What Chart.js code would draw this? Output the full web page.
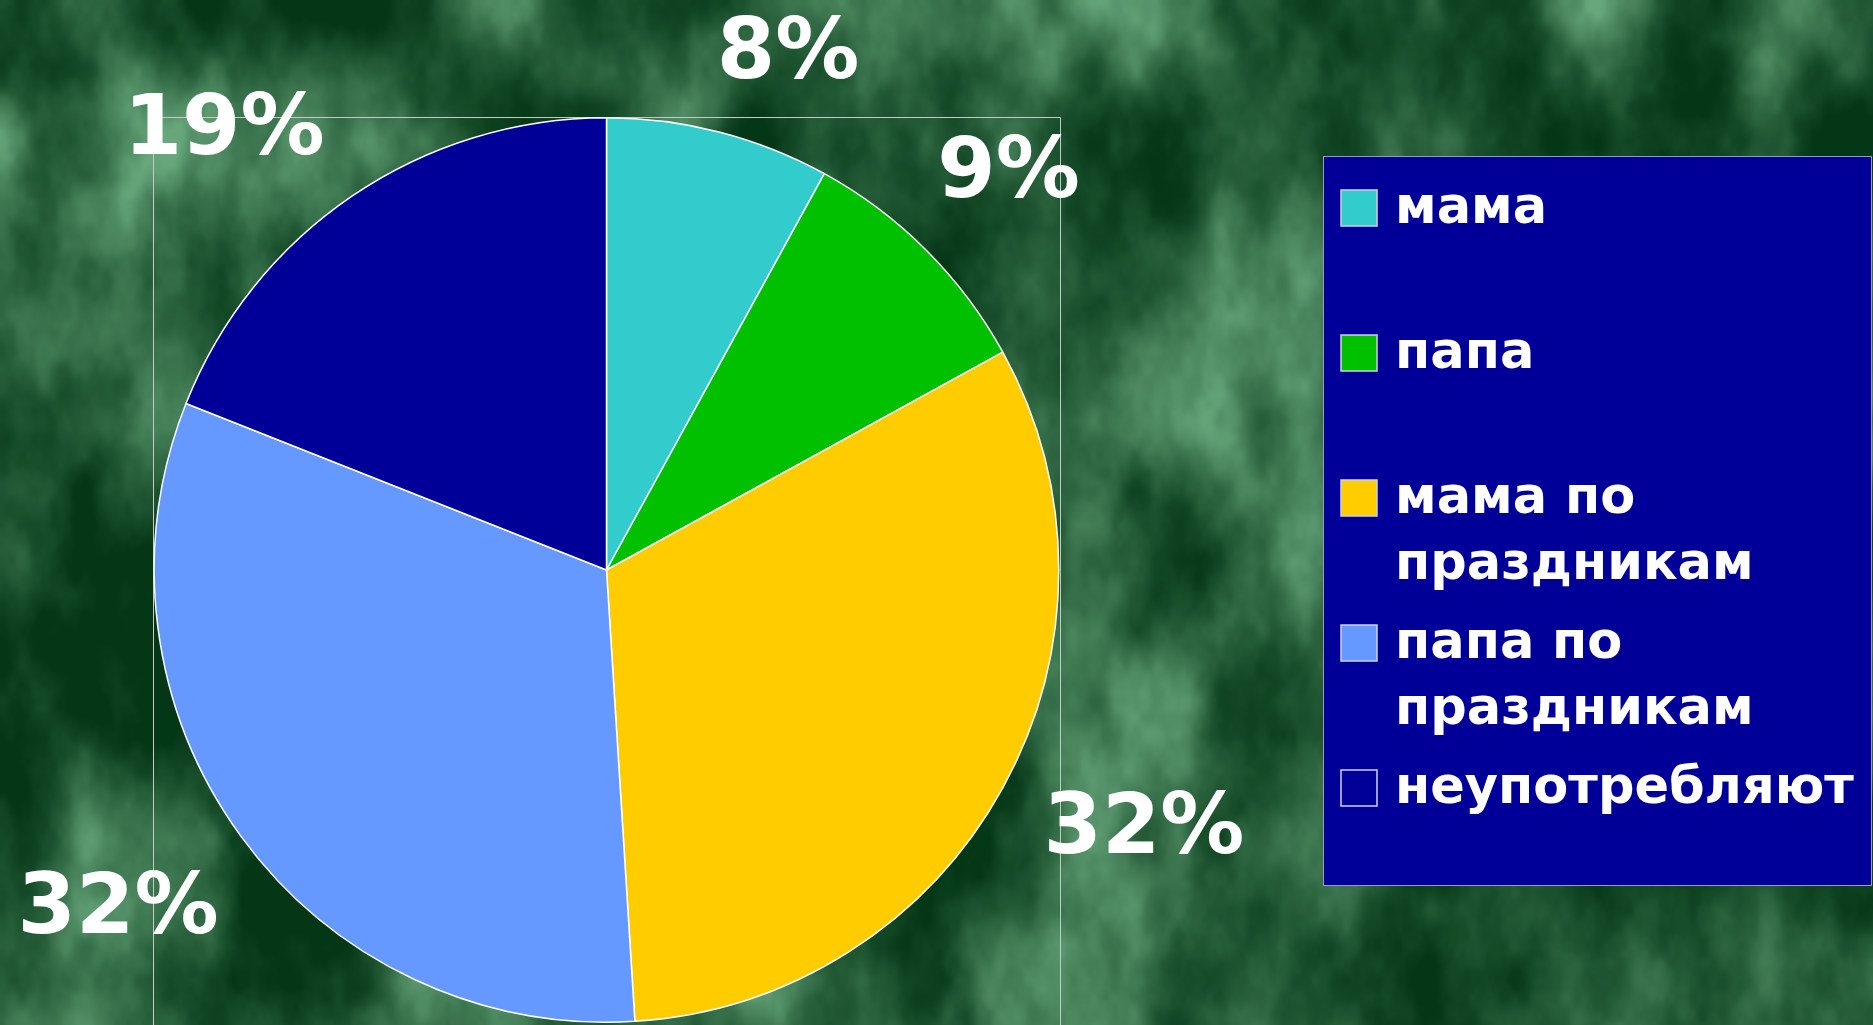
<!DOCTYPE html>
<html>
<head>
<meta charset="utf-8">
<script src="https://cdn.jsdelivr.net/npm/chart.js@4"></script>
<style>
  html, body { margin: 0; padding: 0; background: #23553a; }
  body { width: 1873px; height: 1025px; overflow: hidden; position: relative; }
  #bg { position: absolute; left: 0; top: 0; width: 1873px; height: 1025px; }
  #wrap { position: absolute; left: 0; top: 0; width: 1873px; height: 1025px; }
</style>
</head>
<body>
<canvas id="bg" width="624" height="342"></canvas>
<div id="wrap"><canvas id="chart"></canvas></div>
<script>
const categories = ['мама', 'папа', 'мама по праздникам', 'папа по праздникам', 'неупотребляют'];
const legendLines = [['мама'], ['папа'], ['мама по', 'праздникам'], ['папа по', 'праздникам'], ['неупотребляют']];
const percents = [8, 9, 32, 32, 19];
const colors = ['#33CCCC', '#00C000', '#FFCC00', '#6699FF', '#000099'];

// фон: зелёная «мраморная» текстура (детерминированный шум)
(function drawBg() {
  const cv = document.getElementById('bg');
  const g = cv.getContext('2d');
  const W = cv.width, H = cv.height;
  const img = g.createImageData(W, H);
  const hash = (x, y) => {
    let h = (x * 374761393 + y * 668265263) | 0;
    h = Math.imul(h ^ (h >>> 13), 1274126177);
    return ((h ^ (h >>> 16)) >>> 0) / 4294967295;
  };
  const smooth = t => t * t * (3 - 2 * t);
  const noise = (x, y) => {
    const xi = Math.floor(x), yi = Math.floor(y);
    const fx = smooth(x - xi), fy = smooth(y - yi);
    const a = hash(xi, yi), b = hash(xi + 1, yi), c = hash(xi, yi + 1), d = hash(xi + 1, yi + 1);
    return a + (b - a) * fx + (c - a) * fy + (a - b - c + d) * fx * fy;
  };
  for (let y = 0; y < H; y++) {
    for (let x = 0; x < W; x++) {
      let v = 0, amp = 0.5, f = 1 / 28;
      for (let o = 0; o < 5; o++) {
        v += amp * noise(x * f + o * 31, y * f * 0.6 + o * 17);
        amp *= 0.5; f *= 2;
      }
      v = Math.min(1, Math.max(0, (v - 0.22) / 0.6));
      v = Math.pow(v, 1.3);
      const i = (y * W + x) * 4;
      img.data[i] = 4 + v * 100;
      img.data[i + 1] = 55 + v * 112;
      img.data[i + 2] = 22 + v * 102;
      img.data[i + 3] = 255;
    }
  }
  g.putImageData(img, 0, 0);
})();

// рамка области построения
const plotFrame = {
  id: 'plotFrame',
  beforeDraw(chart) {
    const a = chart.chartArea, c = chart.ctx;
    c.save();
    c.strokeStyle = '#c8c8c8';
    c.lineWidth = 1;
    c.beginPath();
    c.moveTo(a.left + 0.5, chart.height + 5);
    c.lineTo(a.left + 0.5, a.top + 0.5);
    c.lineTo(a.right + 0.5, a.top + 0.5);
    c.lineTo(a.right + 0.5, chart.height + 5);
    c.stroke();
    c.restore();
  }
};

// подписи процентов снаружи круга
const labelNudgeDeg = [4.9, 0.2, -3.2, 1.4, -6.7];
const outLabels = {
  id: 'outLabels',
  afterDatasetsDraw(chart) {
    const c = chart.ctx;
    const meta = chart.getDatasetMeta(0);
    c.save();
    c.font = 'bold 84px "DejaVu Sans"';
    c.fillStyle = '#ffffff';
    c.textAlign = 'center';
    c.textBaseline = 'middle';
    meta.data.forEach((arc, i) => {
      const p = arc.getProps(['x', 'y', 'startAngle', 'endAngle', 'outerRadius'], true);
      const mid = (p.startAngle + p.endAngle) / 2 + labelNudgeDeg[i] * Math.PI / 180;
      const txt = percents[i] + '%';
      const w = c.measureText(txt).width;
      const h = 63;
      const dx = Math.cos(mid), dy = Math.sin(mid);
      const d = p.outerRadius + 36 + Math.abs(dx) * w / 2 + Math.abs(dy) * h / 2 + Math.abs(dy) * 8;
      c.fillText(txt, p.x + dx * d, p.y + dy * d + 4);
    });
    c.restore();
  }
};

// легенда справа
const boxLegend = {
  id: 'boxLegend',
  afterDraw(chart) {
    const c = chart.ctx;
    const bx = 1323, by = 156, bw = 548, bh = 729;
    c.save();
    c.fillStyle = '#000099';
    c.fillRect(bx, by, bw, bh);
    c.strokeStyle = '#9a9ab8';
    c.lineWidth = 1;
    c.strokeRect(bx + 0.5, by + 0.5, bw, bh);
    c.font = 'bold 51px "DejaVu Sans"';
    c.textBaseline = 'middle';
    c.textAlign = 'left';
    const bg = chart.data.datasets[0].backgroundColor;
    const firstY = 210, step = 145, lineH = 66;
    legendLines.forEach((lines, i) => {
      const y = firstY + i * step;
      c.fillStyle = bg[i];
      c.fillRect(1341, y - 20, 36, 36);
      c.strokeStyle = '#d0d0e0';
      c.lineWidth = 1.5;
      c.strokeRect(1341, y - 20, 36, 36);
      c.fillStyle = '#ffffff';
      lines.forEach((t, k) => c.fillText(t, 1395, y + k * lineH));
    });
    c.restore();
  }
};

new Chart(document.getElementById('chart'), {
  type: 'pie',
  data: {
    labels: categories,
    datasets: [{
      data: percents,
      backgroundColor: colors,
      borderColor: '#ffffff',
      borderWidth: 1.5
    }]
  },
  options: {
    responsive: true,
    maintainAspectRatio: false,
    animation: false,
    layout: { padding: { left: 153, right: 813, top: 117, bottom: 2 } },
    plugins: {
      legend: { display: false },
      tooltip: { enabled: false }
    }
  },
  plugins: [plotFrame, outLabels, boxLegend]
});
</script>
</body>
</html>
